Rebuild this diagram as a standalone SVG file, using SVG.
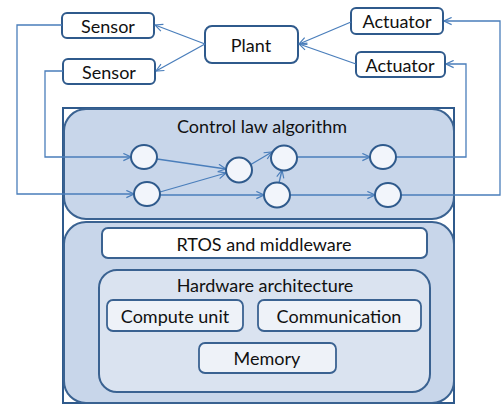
<svg xmlns="http://www.w3.org/2000/svg" width="501" height="406" viewBox="0 0 501 406">
<defs>
<marker id="arr" viewBox="0 0 10 10" refX="9.5" refY="5" markerWidth="9" markerHeight="9" markerUnits="userSpaceOnUse" orient="auto">
<path d="M1,1 L9.5,5 L1,9" fill="none" stroke="#4a7ebb" stroke-width="1.3"/>
</marker>
<style>
.box{fill:#ffffff;stroke:#2f5a8c;stroke-width:2}
.lbl{font-family:Lato,"Open Sans",sans-serif;font-size:18px;fill:#111;text-anchor:middle;dominant-baseline:central}
.conn{fill:none;stroke:#4a7ebb;stroke-width:1.3}
.circ{fill:#f2f5fb;stroke:#2f5a8c;stroke-width:2}
.inner{fill:#eef2f8;stroke:#3a6291;stroke-width:1.8}
</style>
</defs>
<g id="platform-frame">
<rect x="63" y="108" width="391" height="295" fill="#ffffff" stroke="#2f5a8c" stroke-width="2"/>
</g>
<g id="control-law">
<rect x="64" y="109" width="390" height="110" rx="22" fill="#c8d6ea" stroke="#3a6291" stroke-width="2"/>
<text class="lbl" x="262" y="126">Control law algorithm</text>
</g>
<g id="platform">
<rect x="64" y="222" width="390" height="181" rx="22" fill="#c8d6ea" stroke="#3a6291" stroke-width="2"/>
</g>
<g id="rtos">
<rect x="102" y="228" width="325" height="30" rx="6" class="box" style="stroke:#3a6291"/>
<text class="lbl" x="264" y="244">RTOS and middleware</text>
</g>
<g id="hardware">
<rect x="99" y="270" width="331" height="122" rx="18" fill="#dae3f0" stroke="#3a6291" stroke-width="2"/>
<text class="lbl" x="265" y="285">Hardware architecture</text>
</g>
<g id="compute">
<rect x="107" y="300" width="136" height="31" rx="6" class="inner"/>
<text class="lbl" x="175" y="316">Compute unit</text>
</g>
<g id="communication">
<rect x="258" y="300" width="163" height="31" rx="6" class="inner"/>
<text class="lbl" x="339" y="316">Communication</text>
</g>
<g id="memory">
<rect x="199" y="343" width="137" height="30" rx="6" class="inner"/>
<text class="lbl" x="267" y="358">Memory</text>
</g>
<g id="sensor1">
<rect x="62" y="13" width="92" height="25" rx="5" class="box"/>
<text class="lbl" x="108" y="26">Sensor</text>
</g>
<g id="sensor2">
<rect x="63" y="59" width="92" height="25" rx="5" class="box"/>
<text class="lbl" x="109" y="72">Sensor</text>
</g>
<g id="plant">
<rect x="205" y="26" width="93" height="37" rx="7" class="box"/>
<text class="lbl" x="251" y="45">Plant</text>
</g>
<g id="actuator1">
<rect x="351" y="8" width="92" height="26" rx="5" class="box"/>
<text class="lbl" x="397" y="21">Actuator</text>
</g>
<g id="actuator2">
<rect x="356" y="52" width="89" height="25" rx="5" class="box"/>
<text class="lbl" x="400" y="65">Actuator</text>
</g>
<g id="connectors">
<line class="conn" x1="205" y1="44" x2="155" y2="25" marker-end="url(#arr)"/>
<line class="conn" x1="205" y1="44" x2="156" y2="71" marker-end="url(#arr)"/>
<line class="conn" x1="351" y1="22" x2="299" y2="44" marker-end="url(#arr)"/>
<line class="conn" x1="356" y1="64" x2="299" y2="44" marker-end="url(#arr)"/>
<polyline class="conn" points="62,25 17,25 17,194 134,194" marker-end="url(#arr)"/>
<polyline class="conn" points="63,71 45,71 45,157 131,157" marker-end="url(#arr)"/>
<line class="conn" x1="157" y1="159" x2="226" y2="169" marker-end="url(#arr)"/>
<line class="conn" x1="160" y1="192" x2="226" y2="173" marker-end="url(#arr)"/>
<line class="conn" x1="250" y1="165" x2="272" y2="152" marker-end="url(#arr)"/>
<line class="conn" x1="279" y1="183" x2="282" y2="170" marker-end="url(#arr)"/>
<line class="conn" x1="160" y1="195" x2="264" y2="195" marker-end="url(#arr)"/>
<line class="conn" x1="297" y1="157" x2="370" y2="157" marker-end="url(#arr)"/>
<line class="conn" x1="290" y1="195" x2="375" y2="195" marker-end="url(#arr)"/>
<polyline class="conn" points="396,157 466,157 466,64 446,64" marker-end="url(#arr)"/>
<polyline class="conn" points="401,195 500,195 500,21 444,21" marker-end="url(#arr)"/>
</g>
<g id="circles">
<ellipse class="circ" cx="144" cy="157" rx="13" ry="12"/>
<ellipse class="circ" cx="147" cy="194" rx="13" ry="12"/>
<ellipse class="circ" cx="239" cy="170" rx="13" ry="12.5"/>
<ellipse class="circ" cx="284" cy="158" rx="13" ry="12.5"/>
<ellipse class="circ" cx="277" cy="195" rx="13" ry="12.5"/>
<ellipse class="circ" cx="383" cy="157" rx="13" ry="12"/>
<ellipse class="circ" cx="388" cy="195" rx="13" ry="12"/>
</g>
</svg>
